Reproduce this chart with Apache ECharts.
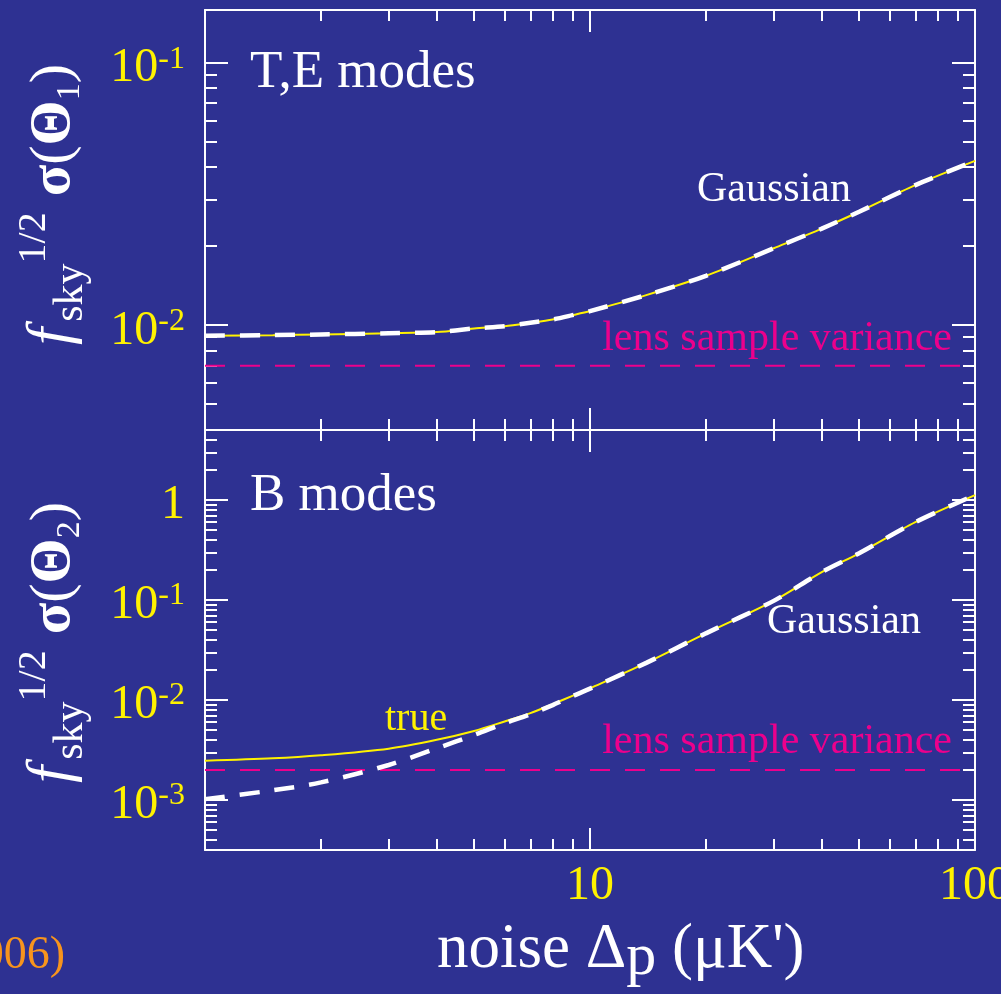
<!DOCTYPE html>
<html><head><meta charset="utf-8">
<script src="https://cdn.jsdelivr.net/npm/echarts@6/dist/echarts.min.js"></script>
<style>html,body{margin:0;padding:0;background:#2e3192;}#c{width:1001px;height:994px;}</style>
</head><body><div id="c"></div>
<script>
// ---- data ----
const noise      = [1, 1.5, 2, 3, 4, 5, 6, 7, 8, 9, 10, 14, 20, 30, 40, 50, 70, 100];
const teTrue     = [0.0091, 0.00915, 0.0092, 0.0093, 0.0094, 0.0097, 0.0099, 0.0102, 0.0105, 0.0109, 0.0113, 0.0130, 0.0154, 0.0196, 0.0233, 0.0270, 0.0341, 0.0422];
const teGaussian = [0.0091, 0.00915, 0.0092, 0.0093, 0.0094, 0.0097, 0.0099, 0.0102, 0.0105, 0.0109, 0.0113, 0.0130, 0.0154, 0.0196, 0.0233, 0.0270, 0.0341, 0.0422];
const bTrue      = [0.00247, 0.00261, 0.0028, 0.00326, 0.0040, 0.0049, 0.0061, 0.0074, 0.0091, 0.0110, 0.0131, 0.0235, 0.0464, 0.098, 0.190, 0.293, 0.600, 1.12];
const bGaussian  = [0.00102, 0.00125, 0.0015, 0.00224, 0.00329, 0.00447, 0.00585, 0.0072, 0.0089, 0.0109, 0.0130, 0.0235, 0.0464, 0.098, 0.190, 0.293, 0.600, 1.12];
const lensTE = 0.007;
const lensB  = 0.002;

// ---- axes ranges and ticks ----
const xMin = 1, xMax = 100;
const yTopMin = Math.pow(10, -2.4), yTopMax = Math.pow(10, -0.8);
const yBotMin = Math.pow(10, -3.5), yBotMax = Math.pow(10, 0.7);
const xMajor = [1, 10, 100];
const xMinor = [2, 3, 4, 5, 6, 7, 8, 9, 20, 30, 40, 50, 60, 70, 80, 90];
const xLabels = [10, 100];
const yTopMajor = [0.01, 0.1];
const yTopMinor = [0.004, 0.005, 0.006, 0.007, 0.008, 0.009, 0.02, 0.03, 0.04, 0.05, 0.06, 0.07, 0.08, 0.09];
const yTopLabels = [0.01, 0.1];
const yBotMajor = [0.001, 0.01, 0.1, 1];
const yBotMinor = [0.0004, 0.0005, 0.0006, 0.0007, 0.0008, 0.0009,
  0.002, 0.003, 0.004, 0.005, 0.006, 0.007, 0.008, 0.009,
  0.02, 0.03, 0.04, 0.05, 0.06, 0.07, 0.08, 0.09,
  0.2, 0.3, 0.4, 0.5, 0.6, 0.7, 0.8, 0.9, 2, 3, 4, 5];
const yBotLabels = [0.001, 0.01, 0.1, 1];

const WHITE = '#ffffff', YEL = '#fff200', MAG = '#ec008c', ORG = '#f7941d', BG = '#2e3192';
const SERIF = '"Liberation Serif", "Times New Roman", serif';

function expLabel(v) {
  const e = Math.round(Math.log10(v));
  return e === 0 ? '{m|1}' : '{m|10}{sup|' + e + '}';
}
function yLabel(vals, shift) {
  return {show: true, customValues: vals, formatter: expLabel, margin: 20,
    padding: [shift * 2, 0, 0, 0],
    rich: {
      m: {fontFamily: SERIF, fontSize: 48, color: YEL},
      sup: {fontFamily: SERIF, fontSize: 32, color: YEL, padding: [0, 0, 18, 0]}
    }};
}
function ax(grid, pos, min, max, ticks, len, line, label) {
  return {
    type: 'log', logBase: 10, gridIndex: grid, position: pos, min: min, max: max,
    axisLine: {show: line, onZero: false, lineStyle: {color: WHITE, width: 2}},
    axisTick: {show: true, inside: true, length: len, customValues: ticks, lineStyle: {color: WHITE, width: 2}},
    axisLabel: label || {show: false},
    splitLine: {show: false}, minorTick: {show: false}, minorSplitLine: {show: false}
  };
}
const xLabelOpt = {show: true, customValues: xLabels, margin: 12,
  formatter: v => String(Math.round(v)), fontFamily: SERIF, fontSize: 48, color: YEL};

const xAxes = [], yAxes = [];
[0, 1].forEach(g => {
  const yMin = g === 0 ? yTopMin : yBotMin, yMax = g === 0 ? yTopMax : yBotMax;
  const yMaj = g === 0 ? yTopMajor : yBotMajor, yMin2 = g === 0 ? yTopMinor : yBotMinor;
  const yLab = g === 0 ? yLabel(yTopLabels, 6) : yLabel(yBotLabels, 5);
  xAxes.push(ax(g, 'bottom', xMin, xMax, xMajor, 22, true, g === 1 ? xLabelOpt : null));
  xAxes.push(ax(g, 'bottom', xMin, xMax, xMinor, 11, false));
  xAxes.push(ax(g, 'top', xMin, xMax, xMajor, 22, true));
  xAxes.push(ax(g, 'top', xMin, xMax, xMinor, 11, false));
  yAxes.push(ax(g, 'left', yMin, yMax, yMaj, 23, true, yLab));
  yAxes.push(ax(g, 'left', yMin, yMax, yMin2, 12, false));
  yAxes.push(ax(g, 'right', yMin, yMax, yMaj, 23, true));
  yAxes.push(ax(g, 'right', yMin, yMax, yMin2, 12, false));
});

function pts(arr) { return noise.map((x, i) => [x, arr[i]]); }
function flat(v) { return [[xMin, v], [xMax, v]]; }
function lens(g, v) {
  return {type: 'line', xAxisIndex: g * 4, yAxisIndex: g * 4, data: flat(v), symbol: 'none', z: 2,
    lineStyle: {color: MAG, width: 2, type: [20, 15]}};
}
function trueLine(g, arr) {
  return {type: 'line', xAxisIndex: g * 4, yAxisIndex: g * 4, data: pts(arr), symbol: 'none', smooth: 0.3, z: 3,
    lineStyle: {color: YEL, width: 2}};
}
function gaussLine(g, arr) {
  return {type: 'line', xAxisIndex: g * 4, yAxisIndex: g * 4, data: pts(arr), symbol: 'none', smooth: 0.3, z: 4,
    lineStyle: {color: WHITE, width: 4.5, type: [20, 15]}};
}

function txt(x, y, text, size, color, align) {
  return {type: 'text', x: x, y: y, z: 100,
    style: {text: text, fill: color, fontFamily: SERIF, fontSize: size, align: align || 'left', verticalAlign: 'middle'}};
}
function yTitle(y, idx) {
  const tk = (o) => Object.assign({fontFamily: SERIF, fill: WHITE}, o);
  return {type: 'text', x: 54, y: y, rotation: Math.PI / 2, z: 100,
    style: {
      text: '{f|f}{sky|sky}{sup|1/2}{s|σ}{p|(}{th|Θ}{sub|' + idx + '}{p|)}',
      fill: WHITE, fontFamily: SERIF, fontSize: 50, align: 'left', verticalAlign: 'middle',
      rich: {
        f: tk({fontSize: 62, fontStyle: 'italic', padding: [0, 0, 2, 0]}),
        sky: tk({fontSize: 42, padding: [34, 0, 0, 6]}),
        sup: tk({fontSize: 40, padding: [0, 0, 40, 0]}),
        s: tk({fontSize: 58, fontWeight: 'bold', padding: [0, 0, 0, 16]}),
        p: tk({fontSize: 58}),
        th: tk({fontSize: 58, fontWeight: 'bold'}),
        sub: tk({fontSize: 34, padding: [32, 0, 0, 0]})
      }
    }};
}

const option = {
  backgroundColor: BG,
  animation: false,
  grid: [
    {left: 205, top: 10, width: 770, height: 420, containLabel: false, outerBoundsMode: 'none'},
    {left: 205, top: 430, width: 770, height: 420, containLabel: false, outerBoundsMode: 'none'}
  ],
  xAxis: xAxes,
  yAxis: yAxes,
  series: [
    lens(0, lensTE), trueLine(0, teTrue), gaussLine(0, teGaussian),
    lens(1, lensB), trueLine(1, bTrue), gaussLine(1, bGaussian)
  ],
  graphic: [
    txt(250, 73, 'T,E modes', 53, WHITE),
    txt(250, 496, 'B modes', 53, WHITE),
    txt(697, 190, 'Gaussian', 42, WHITE),
    txt(767, 622, 'Gaussian', 42, WHITE),
    txt(952, 339, 'lens sample variance', 42, MAG, 'right'),
    txt(952, 742, 'lens sample variance', 42, MAG, 'right'),
    txt(385, 719, 'true', 40, YEL),
    txt(65, 956, '(2006)', 46, ORG, 'right'),
    yTitle(345, 1),
    yTitle(783, 2),
    {type: 'text', x: 437, y: 950, z: 100,
      style: {text: '{m|noise Δ}{sub|p}{m| (μK\')}', fill: WHITE, fontFamily: SERIF, fontSize: 62,
        align: 'left', verticalAlign: 'middle',
        rich: {
          m: {fontFamily: SERIF, fontSize: 63, fill: WHITE},
          sub: {fontFamily: SERIF, fontSize: 60, fill: WHITE, padding: [16, 0, 0, 0]}
        }}}
  ]
};
const chart = echarts.init(document.getElementById('c'), null, {renderer: 'canvas'});
chart.setOption(option);
</script>
</body></html>
